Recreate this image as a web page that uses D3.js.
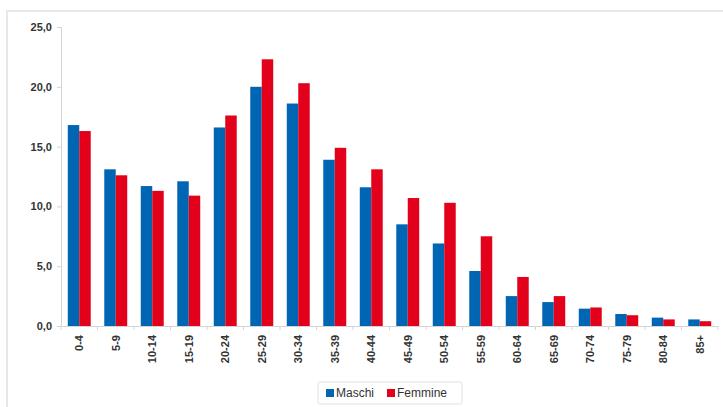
<!DOCTYPE html>
<html>
<head>
<meta charset="utf-8">
<script src="https://cdn.jsdelivr.net/npm/d3@7"></script>
<style>
  body { margin: 0; background: #fff; }
  text { font-family: "Liberation Sans", Arial, sans-serif; }
</style>
</head>
<body>
<div id="chart"></div>
<script>
// Age classes and values (per cent)
const ageClasses = ["0-4", "5-9", "10-14", "15-19", "20-24", "25-29", "30-34", "35-39", "40-44",
  "45-49", "50-54", "55-59", "60-64", "65-69", "70-74", "75-79", "80-84", "85+"];
const maschi = [16.8, 13.1, 11.7, 12.1, 16.6, 20.0, 18.6, 13.9, 11.6,
  8.5, 6.9, 4.6, 2.5, 2.0, 1.45, 1.0, 0.7, 0.55];
const femmine = [16.3, 12.6, 11.3, 10.9, 17.6, 22.3, 20.3, 14.9, 13.1,
  10.7, 10.3, 7.5, 4.1, 2.5, 1.55, 0.9, 0.55, 0.4];
const seriesNames = ["Maschi", "Femmine"];
const yTicks = [0, 5, 10, 15, 20, 25];

const W = 723, H = 407;
const colors = {Maschi: "#0065b2", Femmine: "#e2001a"};

const svg = d3.select("#chart")
  .append("svg")
  .attr("width", W)
  .attr("height", H);

// Outer frame
svg.append("rect")
  .attr("x", 7).attr("y", 11)
  .attr("width", W + 20).attr("height", H + 20)
  .attr("fill", "none")
  .attr("stroke", "#e8e8e8")
  .attr("stroke-width", 2);

// Scales
const x = d3.scaleBand()
  .domain(ageClasses)
  .range([61, 718]);

const xInner = d3.scaleBand()
  .domain(seriesNames)
  .range([0, x.bandwidth()])
  .paddingOuter(0.59);

const y = d3.scaleLinear()
  .domain([0, 25])
  .range([326, 27]);

const itFormat = d3.formatLocale({decimal: ",", thousands: ".", grouping: [3], currency: ["", "€"]}).format(".1f");

// Bars
const rows = ageClasses.map((c, i) => ({cat: c, Maschi: maschi[i], Femmine: femmine[i]}));

svg.append("g")
  .selectAll("g")
  .data(rows)
  .join("g")
  .attr("transform", d => `translate(${x(d.cat)},0)`)
  .selectAll("rect")
  .data(d => seriesNames.map(k => ({key: k, value: d[k]})))
  .join("rect")
  .attr("x", d => xInner(d.key))
  .attr("y", d => y(d.value))
  .attr("width", xInner.bandwidth())
  .attr("height", d => y(0) - y(d.value))
  .attr("fill", d => colors[d.key]);

// Y axis
svg.append("g")
  .attr("transform", "translate(61,0)")
  .call(d3.axisLeft(y).tickValues(yTicks).tickFormat(itFormat).tickSize(4).tickPadding(5))
  .call(g => g.selectAll(".domain").attr("stroke", "#d4d4d4"))
  .call(g => g.selectAll(".tick line").attr("stroke", "#d4d4d4"))
  .call(g => g.selectAll("text")
    .attr("fill", "#333")
    .style("font-size", "11px")
    .style("font-weight", "bold"));

// X axis
const xAxis = svg.append("g")
  .attr("transform", `translate(0,${y(0)})`)
  .call(d3.axisBottom(x).tickSize(0).tickPadding(0));

xAxis.select(".domain").attr("stroke", "#d4d4d4");

// tick marks between categories
xAxis.selectAll(".sep")
  .data(ageClasses.concat(["end"]))
  .join("line")
  .attr("class", "sep")
  .attr("x1", (d, i) => i < ageClasses.length ? x(d) : x.range()[1])
  .attr("x2", (d, i) => i < ageClasses.length ? x(d) : x.range()[1])
  .attr("y1", 0).attr("y2", 4)
  .attr("stroke", "#d4d4d4");

xAxis.selectAll(".tick text")
  .attr("transform", "rotate(-90)")
  .attr("x", -9)
  .attr("y", 0)
  .attr("dy", "0.35em")
  .attr("text-anchor", "end")
  .attr("fill", "#333")
  .style("font-size", "11px")
  .style("font-weight", "bold");

// Legend
const legend = svg.append("g").attr("transform", "translate(318,382)");

legend.append("rect")
  .attr("width", 144).attr("height", 22)
  .attr("fill", "#fff")
  .attr("stroke", "#e0e0e0")
  .attr("rx", 2);

const legendItems = [{name: "Maschi", x: 8}, {name: "Femmine", x: 69}];

const item = legend.selectAll(".item")
  .data(legendItems)
  .join("g")
  .attr("class", "item")
  .attr("transform", d => `translate(${d.x},7)`);

item.append("rect")
  .attr("width", 8).attr("height", 8)
  .attr("fill", d => colors[d.name]);

item.append("text")
  .attr("x", 10)
  .attr("y", 8)
  .attr("fill", "#333")
  .style("font-size", "12px")
  .text(d => d.name);
</script>
</body>
</html>
